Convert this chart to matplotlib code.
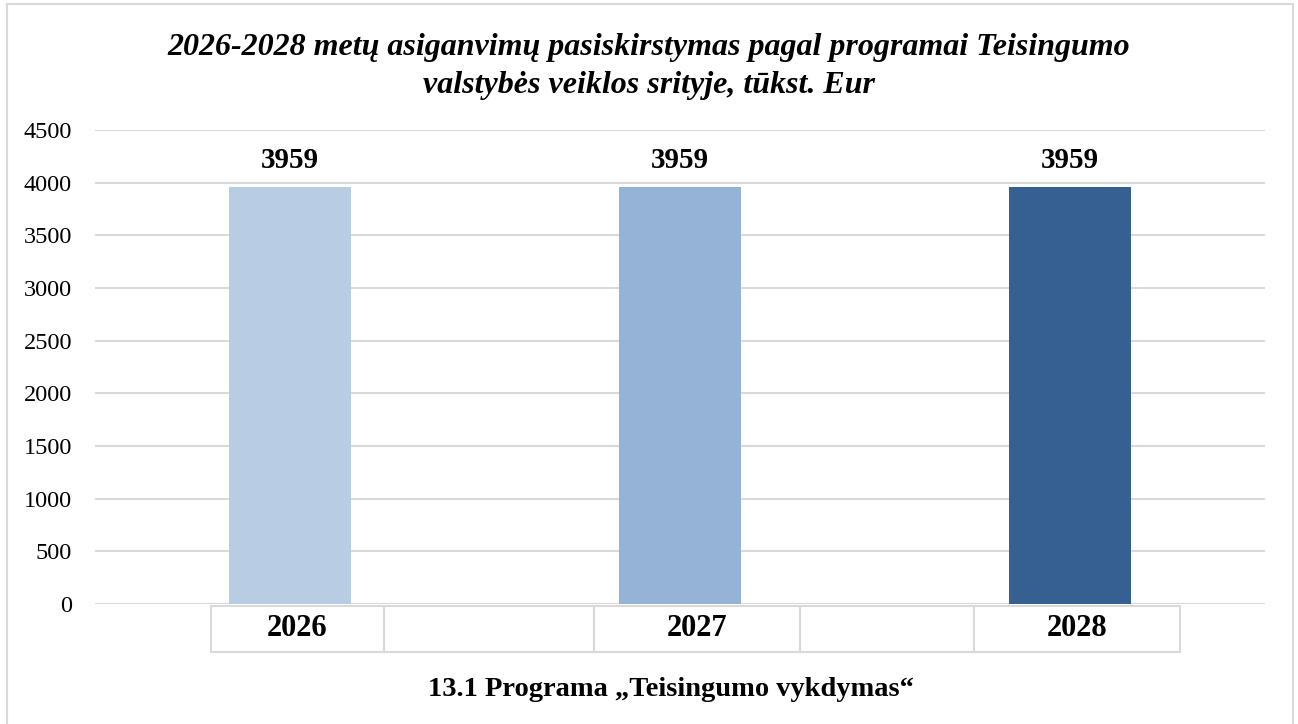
import matplotlib.pyplot as plt
from matplotlib.patches import Rectangle

plt.rcParams['font.family'] = ['Liberation Serif', 'DejaVu Serif']

# data
years = ['2026', '2027', '2028']
values = [3959, 3959, 3959]
colors = ['#b8cce4', '#95b3d7', '#376092']
title = '2026-2028 metų asiganvimų pasiskirstymas pagal programai Teisingumo\nvalstybės veiklos srityje, tūkst. Eur'
subtitle = '13.1 Programa „Teisingumo vykdymas“'
grid_col = '#d9d9d9'

fig = plt.figure(figsize=(12.98, 7.24), dpi=100)
ax = fig.add_axes([95 / 1298, 1 - 604 / 724, 1170 / 1298, 474 / 724])

x = range(len(years))
bars = ax.bar(x, values, width=0.315, color=colors, zorder=3)

ax.set_xlim(-0.5, 2.5)
ax.set_ylim(0, 4500)
ax.set_yticks(range(0, 4501, 500))
ax.grid(axis='y', color=grid_col, linewidth=1.5, zorder=0)
ax.set_axisbelow(True)
for s in ax.spines.values():
    s.set_visible(False)
ax.axhline(0, color=grid_col, linewidth=1.5, zorder=1)
ax.tick_params(axis='y', length=0, pad=16.5, labelsize=17.5)
ax.set_xticks([])

# value labels
for b, v in zip(bars, values):
    ax.annotate(str(v), (b.get_x() + b.get_width() / 2, v), xytext=(0, 9),
                textcoords='offset points', ha='center', va='bottom',
                fontsize=21, fontweight='bold')

# category "table" under the axis
cells = [years[0], '', years[1], '', years[2]]
widths = [173 / 1170, 210 / 1170, 206 / 1170, 174 / 1170, 206 / 1170]
tbl = ax.table(cellText=[cells], colWidths=widths, cellLoc='center',
               bbox=[116 / 1170, -48 / 474, sum(widths), 46 / 474])
tbl.auto_set_font_size(False)
for (r, c), cell in tbl.get_celld().items():
    cell.set_edgecolor(grid_col)
    cell.set_linewidth(1.5)
    cell.get_text().set_fontsize(22)
    cell.get_text().set_fontweight('bold')

fig.text(0.5, 1 - 66.5 / 724, title, ha='center', va='center', fontsize=23,
         fontweight='bold', fontstyle='italic', linespacing=1.37)
fig.text(671 / 1298, 1 - 690 / 724, subtitle, ha='center', va='center',
         fontsize=20.5, fontweight='bold')

# outer frame
fig.patches.append(Rectangle((7 / 1298, -0.05), 1286 / 1298, 1.05 - 4 / 724,
                             transform=fig.transFigure, fill=False,
                             edgecolor=grid_col, linewidth=1.5))

fig.savefig('out.png', dpi=100)
